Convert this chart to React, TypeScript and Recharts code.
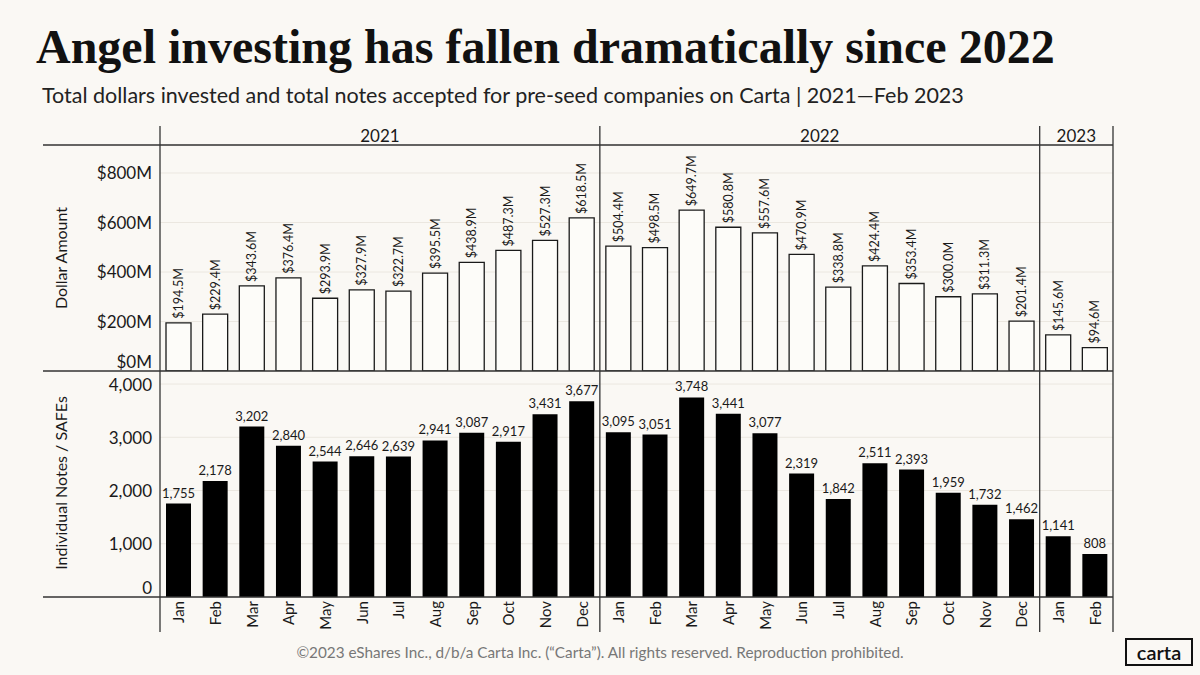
import { BarChart, Bar, XAxis, YAxis, CartesianGrid, LabelList } from "recharts";

const months = [
  "Jan", "Feb", "Mar", "Apr", "May", "Jun", "Jul", "Aug", "Sep", "Oct", "Nov", "Dec",
  "Jan", "Feb", "Mar", "Apr", "May", "Jun", "Jul", "Aug", "Sep", "Oct", "Nov", "Dec",
  "Jan", "Feb",
];
const years = [
  2021, 2021, 2021, 2021, 2021, 2021, 2021, 2021, 2021, 2021, 2021, 2021,
  2022, 2022, 2022, 2022, 2022, 2022, 2022, 2022, 2022, 2022, 2022, 2022,
  2023, 2023,
];
// $M invested
const dollars = [
  194.5, 229.4, 343.6, 376.4, 293.9, 327.9, 322.7, 395.5, 438.9, 487.3, 527.3, 618.5,
  504.4, 498.5, 649.7, 580.8, 557.6, 470.9, 338.8, 424.4, 353.4, 300.0, 311.3, 201.4,
  145.6, 94.6,
];
// individual notes / SAFEs
const notes = [
  1755, 2178, 3202, 2840, 2544, 2646, 2639, 2941, 3087, 2917, 3431, 3677,
  3095, 3051, 3748, 3441, 3077, 2319, 1842, 2511, 2393, 1959, 1732, 1462,
  1141, 808,
];
const dollarTicks = [0, 200, 400, 600, 800];
const noteTicks = [0, 1000, 2000, 3000, 4000];

const rows = months.map((m, i) => ({
  key: `${m} ${years[i]}`,
  month: m,
  dollars: dollars[i],
  notes: notes[i],
}));

const BG = "#faf8f4";
const INK = "#1a1a1a";
const SANS = "Lato, 'Noto Sans', sans-serif";

const W = 1200;
const PLOT_L = 160;
const PLOT_R = 1113;
const HEADER_Y = 145;
const MID_Y = 371;
const BASE_Y = 597;

const band = (PLOT_R - PLOT_L) / months.length;
const yearGroups = years.reduce<{ year: number; start: number; end: number }[]>((acc, y, i) => {
  const last = acc[acc.length - 1];
  if (last && last.year === y) last.end = i + 1;
  else acc.push({ year: y, start: i, end: i + 1 });
  return acc;
}, []);

function YTick(props: any) {
  const { x, y, payload, fmt } = props;
  const dy = payload.value === 0 ? -10 : 0;
  return (
    <text x={x} y={y + dy} textAnchor="end" dominantBaseline="central" fontSize={17} fill={INK} fontFamily={SANS}>
      {fmt(payload.value)}
    </text>
  );
}

function MonthTick(props: any) {
  const { x, y, payload } = props;
  return (
    <text
      x={x}
      y={y}
      transform={`rotate(-90 ${x} ${y})`}
      textAnchor="end"
      dominantBaseline="central"
      fontSize={15}
      fill={INK}
      fontFamily={SANS}
    >
      {payload.value.split(" ")[0]}
    </text>
  );
}

function DollarLabel(props: any) {
  const { x, y, width, value } = props;
  const cx = x + width / 2;
  const ty = y - 4;
  return (
    <text
      x={cx}
      y={ty}
      transform={`rotate(-90 ${cx} ${ty})`}
      textAnchor="start"
      dominantBaseline="central"
      fontSize={12.5}
      fill={INK}
      fontFamily={SANS}
    >
      {`$${Number(value).toFixed(1)}M`}
    </text>
  );
}

export default function App() {
  return (
    <div style={{ position: "absolute", left: 0, top: 0, width: W, height: 675, background: BG, fontFamily: SANS, overflow: "hidden" }}>
      <div style={{ position: "absolute", left: 36, top: 20, fontFamily: "'Liberation Serif', serif", fontWeight: 700, fontSize: 48, lineHeight: "54px", color: "#111", whiteSpace: "nowrap" }}>
        Angel investing has fallen dramatically since 2022
      </div>
      <div style={{ position: "absolute", left: 42, top: 82, fontSize: 21.5, color: "#222", whiteSpace: "nowrap" }}>
        Total dollars invested and total notes accepted for pre-seed companies on Carta | 2021—Feb 2023
      </div>

      <div style={{ position: "absolute", left: 0, top: 0 }}>
        <BarChart width={W} height={MID_Y} data={rows} margin={{ top: HEADER_Y, right: W - PLOT_R, bottom: 0, left: 60 }}>
          <CartesianGrid vertical={false} stroke="#ebe7e0" />
          <XAxis dataKey="key" hide />
          <YAxis
            width={100}
            domain={[0, 913]}
            ticks={dollarTicks}
            interval={0}
            axisLine={false}
            tickLine={false}
            tickSize={0}
            tickMargin={8}
            tick={<YTick fmt={(v: number) => `$${v}M`} />}
          />
          <Bar dataKey="dollars" barSize={25} fill="#fdfcf9" stroke={INK} strokeWidth={1.3} isAnimationActive={false}>
            <LabelList dataKey="dollars" content={<DollarLabel />} />
          </Bar>
        </BarChart>
      </div>

      <div style={{ position: "absolute", left: 0, top: MID_Y }}>
        <BarChart width={W} height={675 - MID_Y} data={rows} margin={{ top: 0, right: W - PLOT_R, bottom: 43, left: 60 }}>
          <CartesianGrid vertical={false} stroke="#ebe7e0" />
          <XAxis dataKey="key" height={35} axisLine={false} tickLine={false} tickSize={0} tickMargin={4} interval={0} tick={<MonthTick />} />
          <YAxis
            width={100}
            domain={[0, 4245]}
            ticks={noteTicks}
            interval={0}
            axisLine={false}
            tickLine={false}
            tickSize={0}
            tickMargin={8}
            tick={<YTick fmt={(v: number) => v.toLocaleString("en-US")} />}
          />
          <Bar dataKey="notes" barSize={25} fill="#000" isAnimationActive={false}>
            <LabelList
              dataKey="notes"
              position="top"
              offset={6}
              formatter={(v: any) => Number(v).toLocaleString("en-US")}
              style={{ fontSize: 13, fill: INK, fontFamily: SANS }}
            />
          </Bar>
        </BarChart>
      </div>

      <svg width={W} height={675} style={{ position: "absolute", left: 0, top: 0, pointerEvents: "none" }}>
        <g stroke="#333" strokeWidth={1.3}>
          <line x1={43} x2={PLOT_R} y1={HEADER_Y} y2={HEADER_Y} />
          <line x1={43} x2={PLOT_R} y1={MID_Y} y2={MID_Y} />
          <line x1={43} x2={PLOT_R} y1={BASE_Y} y2={BASE_Y} />
          <line x1={PLOT_L} x2={PLOT_L} y1={126} y2={632} />
          {yearGroups.map((g) => {
            const xe = PLOT_L + g.end * band;
            return <line key={g.year} x1={xe} x2={xe} y1={126} y2={632} />;
          })}
        </g>
        {yearGroups.map((g) => (
          <text
            key={g.year}
            x={PLOT_L + ((g.start + g.end) / 2) * band}
            y={135}
            textAnchor="middle"
            dominantBaseline="central"
            fontSize={17}
            fill={INK}
            fontFamily={SANS}
          >
            {g.year}
          </text>
        ))}
        <text x={60} y={258} transform="rotate(-90 60 258)" textAnchor="middle" dominantBaseline="central" fontSize={16} fill={INK} fontFamily={SANS}>
          Dollar Amount
        </text>
        <text x={60} y={483} transform="rotate(-90 60 483)" textAnchor="middle" dominantBaseline="central" fontSize={16} fill={INK} fontFamily={SANS}>
          Individual Notes / SAFEs
        </text>
        <text x={600} y={652} textAnchor="middle" dominantBaseline="central" fontSize={15.3} fill="#777" fontFamily={SANS}>
          ©2023 eShares Inc., d/b/a Carta Inc. (“Carta”). All rights reserved. Reproduction prohibited.
        </text>
        <rect x={1126} y={639} width={66} height={26} fill="none" stroke="#111" strokeWidth={2} />
        <text x={1159} y={652} textAnchor="middle" dominantBaseline="central" fontSize={20} fontWeight={600} fill="#111" fontFamily={SANS}>
          carta
        </text>
      </svg>
    </div>
  );
}
